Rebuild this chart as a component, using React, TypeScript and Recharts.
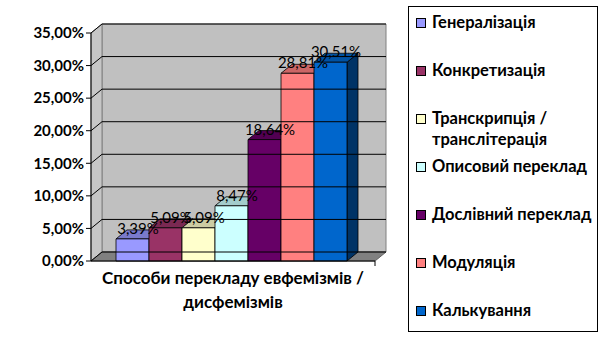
import { BarChart, Bar, XAxis, YAxis, Legend, LabelList, ReferenceArea, ReferenceLine } from "recharts";

const categories = [
  "Генералізація",
  "Конкретизація",
  "Транскрипція / транслітерація",
  "Описовий переклад",
  "Дослівний переклад",
  "Модуляція",
  "Калькування",
];
const values = [3.39, 5.09, 5.09, 8.47, 18.64, 28.81, 30.51];
const colors = ["#9999ff", "#993366", "#ffffcc", "#ccffff", "#660066", "#ff8080", "#0066cc"];
const yTicks = [0, 5, 10, 15, 20, 25, 30, 35];
const groupLabel = "Способи перекладу евфемізмів / дисфемізмів";

const data = [
  values.reduce<Record<string, string | number>>(
    (row, v, i) => {
      row[`s${i}`] = v;
      return row;
    },
    { group: groupLabel }
  ),
];

// 3d depth of the walls and bars
const DX = 11;
const DY = -9;
const FONT = "Lato, 'Open Sans', sans-serif";

function shade(hex: string, f: number) {
  const n = parseInt(hex.slice(1), 16);
  const r = Math.round(((n >> 16) & 255) * f);
  const g = Math.round(((n >> 8) & 255) * f);
  const b = Math.round((n & 255) * f);
  return `rgb(${r},${g},${b})`;
}

const pct = (v: number) => `${v.toFixed(2).replace(".", ",")}%`;

// split "a / b" into two lines, keeping the slash on the first one
const splitSlash = (s: string) => {
  const parts = s.split(" / ");
  return parts.length > 1 ? [`${parts[0]} /`, parts.slice(1).join(" / ")] : parts;
};

function Bar3D(props: any) {
  const { x, y, width, height, fill } = props;
  const top = `${x},${y} ${x + DX},${y + DY} ${x + width + DX},${y + DY} ${x + width},${y}`;
  const side = `${x + width},${y} ${x + width + DX},${y + DY} ${x + width + DX},${y + height + DY} ${x + width},${y + height}`;
  return (
    <g stroke="#000" strokeWidth={0.8} strokeLinejoin="round">
      <polygon points={side} fill={shade(fill, 0.5)} />
      <polygon points={top} fill={shade(fill, 0.8)} />
      <rect x={x} y={y} width={width} height={height} fill={fill} />
    </g>
  );
}

function Walls(props: any) {
  const { x, y, width, height } = props;
  const x0 = x;
  const x1 = x + width;
  const yT = y;
  const yB = y + height;
  return (
    <g>
      <polygon
        points={`${x0 + DX},${yT + DY} ${x1 + DX},${yT + DY} ${x1 + DX},${yB + DY} ${x0 + DX},${yB + DY}`}
        fill="#c0c0c0"
        stroke="#808080"
      />
      <polygon
        points={`${x0},${yT} ${x0 + DX},${yT + DY} ${x0 + DX},${yB + DY} ${x0},${yB}`}
        fill="#c6c6c6"
        stroke="#808080"
      />
      <polygon
        points={`${x0},${yB} ${x0 + DX},${yB + DY} ${x1 + DX},${yB + DY} ${x1},${yB}`}
        fill="#808080"
        stroke="#606060"
      />
      <line x1={x1} y1={yB} x2={x1} y2={yB + 5} stroke="#000" />
    </g>
  );
}

function GridLine(props: any) {
  const { x1, y1, x2 } = props;
  return (
    <polyline
      points={`${x1},${y1} ${x1 + DX},${y1 + DY} ${x2 + DX},${y1 + DY}`}
      fill="none"
      stroke="#000"
      strokeWidth={1}
    />
  );
}

function GroupTick(props: any) {
  const { x, y, payload } = props;
  const lines = splitSlash(String(payload.value));
  return (
    <text x={x} y={y} textAnchor="middle" fontFamily={FONT} fontWeight="bold" fontSize={17} fill="#000">
      {lines.map((l, i) => (
        <tspan key={i} x={x} dy={i === 0 ? 15 : 24}>
          {l}
        </tspan>
      ))}
    </text>
  );
}

function ValueLabel(props: any) {
  const { x, y, width, value } = props;
  return (
    <text
      x={x + width / 2 + DX / 2}
      y={y - 5}
      textAnchor="middle"
      fontFamily={FONT}
      fontSize={15}
      fill="#000"
    >
      {pct(Number(value))}
    </text>
  );
}

function LegendBox() {
  return (
    <div
      style={{
        width: 188,
        height: 324,
        border: "1px solid #000",
        background: "#fff",
        position: "relative",
        fontFamily: FONT,
        fontWeight: "bold",
        fontSize: 16.5,
        color: "#000",
      }}
    >
      {categories.map((c, i) => (
        <div key={c} style={{ position: "absolute", left: 0, top: 5 + 48 * i, lineHeight: "21px" }}>
          <span
            style={{
              position: "absolute",
              left: 7,
              top: 6,
              width: 8,
              height: 8,
              background: colors[i],
              border: "1px solid #000",
            }}
          />
          {splitSlash(c).map((l, j) => (
            <div key={j} style={{ marginLeft: 23, whiteSpace: "nowrap" }}>
              {l}
            </div>
          ))}
        </div>
      ))}
    </div>
  );
}

export default function App() {
  return (
    <div style={{ position: "absolute", left: 0, top: 0, width: 608, height: 338, background: "#fff" }}>
      <BarChart
        width={608}
        height={338}
        data={data}
        margin={{ top: 33, right: 233, bottom: 17, left: 11 }}
        barCategoryGap={25}
        barGap={0}
      >
        <ReferenceArea y1={0} y2={35} shape={<Walls />} fill="none" stroke="none" />
        {yTicks.map((t) => (
          <ReferenceLine key={t} y={t} shape={(p: any) => <GridLine {...p} />} />
        ))}
        <XAxis
          dataKey="group"
          height={60}
          tickLine={false}
          axisLine={{ stroke: "#000" }}
          tick={<GroupTick />}
          interval={0}
        />
        <YAxis
          width={80}
          domain={[0, 35]}
          ticks={yTicks}
          tickFormatter={(v: number) => pct(v)}
          tickSize={5}
          axisLine={{ stroke: "#000" }}
          tickLine={{ stroke: "#000" }}
          tick={{ fontFamily: FONT, fontWeight: "bold", fontSize: 15, fill: "#000" }}
        />
        {categories.map((c, i) => (
          <Bar
            key={c}
            dataKey={`s${i}`}
            name={c}
            fill={colors[i]}
            shape={<Bar3D />}
            isAnimationActive={false}
          >
            <LabelList dataKey={`s${i}`} content={<ValueLabel />} />
          </Bar>
        ))}
        <Legend
          layout="vertical"
          align="center"
          verticalAlign="middle"
          content={<LegendBox />}
          wrapperStyle={{ left: 408, top: 6, width: 190, height: 326 }}
        />
      </BarChart>
    </div>
  );
}
